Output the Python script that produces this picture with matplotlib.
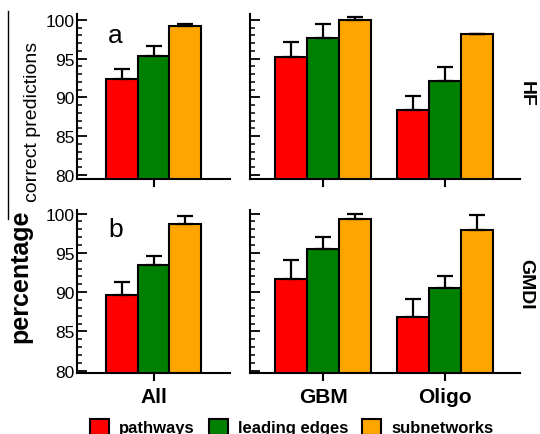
import numpy as np
import matplotlib
matplotlib.use('Agg')
import matplotlib.pyplot as plt
from matplotlib.ticker import MultipleLocator
from matplotlib.patches import Patch
from matplotlib.lines import Line2D

plt.rcParams['font.family'] = ['Liberation Sans', 'DejaVu Sans']

groups_left = ['All']
groups_right = ['GBM', 'Oligo']
methods = ['pathways', 'leading edges', 'subnetworks']
colors = ['#ff0000', '#008000', '#ffa500']

# values for All, GBM, Oligo
hf_vals = {'pathways': [92.3, 95.15, 88.35],
           'leading edges': [95.35, 97.7, 92.1],
           'subnetworks': [99.25, 100.0, 98.2]}
hf_err = {'pathways': [1.3, 1.95, 1.85],
          'leading edges': [1.25, 1.8, 1.8],
          'subnetworks': [0.25, 0.4, 0.0]}
gmdi_vals = {'pathways': [89.65, 91.7, 86.8],
             'leading edges': [93.5, 95.5, 90.5],
             'subnetworks': [98.7, 99.35, 97.95]}
gmdi_err = {'pathways': [1.65, 2.4, 2.35],
            'leading edges': [1.1, 1.5, 1.6],
            'subnetworks': [0.95, 0.55, 1.9]}

W, H = 540, 435
def box(x0, y0, x1, y1):
    return [x0 / W, 1 - y1 / H, (x1 - x0) / W, (y1 - y0) / H]

fig = plt.figure(figsize=(5.4, 4.35), dpi=100)
ax_tl = fig.add_axes(box(77, 15, 230, 180))
ax_tr = fig.add_axes(box(250, 15, 520, 180))
ax_bl = fig.add_axes(box(77, 211, 230, 374))
ax_br = fig.add_axes(box(250, 211, 520, 374))

bw = 0.262

def draw(ax, vals, errs, idx, labels, ylim, show_labels, show_y):
    x = np.arange(len(idx))
    for k, m in enumerate(methods):
        v = [vals[m][i] for i in idx]
        e = [errs[m][i] for i in idx]
        pos = x + (k - 1) * bw
        ax.bar(pos, v, bw, color=colors[k], edgecolor='black', linewidth=1.5, zorder=2)
        ax.errorbar(pos, v, yerr=[np.zeros(len(e)), e], fmt='none', ecolor='black',
                    elinewidth=1.6, capsize=5.5, capthick=1.6, zorder=3)
    ax.set_ylim(*ylim)
    ax.set_xticks(x)
    ax.set_xticklabels(labels if show_labels else [])
    ax.yaxis.set_major_locator(MultipleLocator(5))
    ax.yaxis.set_minor_locator(MultipleLocator(1))
    ax.tick_params(axis='y', which='major', direction='in', length=7, width=1.3,
                   labelsize=12.5, pad=2, labelleft=show_y)
    ax.tick_params(axis='y', which='minor', direction='in', length=3.5, width=1.1)
    ax.tick_params(axis='x', direction='out', length=6, width=1.5, labelsize=15, pad=4)
    for t in ax.get_xticklabels():
        t.set_fontweight('bold')
    for s in ['top', 'right']:
        ax.spines[s].set_visible(False)
    for s in ['left', 'bottom']:
        ax.spines[s].set_linewidth(1.5)

draw(ax_tl, hf_vals, hf_err, [0], groups_left, (79.45, 100.75), False, True)
draw(ax_tr, hf_vals, hf_err, [1, 2], groups_right, (79.45, 100.75), False, False)
draw(ax_bl, gmdi_vals, gmdi_err, [0], groups_left, (79.7, 100.45), True, True)
draw(ax_br, gmdi_vals, gmdi_err, [1, 2], groups_right, (79.7, 100.45), True, False)
ax_tl.set_xlim(-0.628, 0.628)
ax_bl.set_xlim(-0.628, 0.628)
ax_tr.set_xlim(-0.602, 1.616)
ax_br.set_xlim(-0.602, 1.616)

fig.text(108 / W, 1 - 43 / H, 'a', fontsize=19, ha='left', va='baseline')
fig.text(108 / W, 1 - 237 / H, 'b', fontsize=19, ha='left', va='baseline')

fig.text(526 / W, 1 - 94 / H, 'HF', rotation=-90, fontsize=14, fontweight='bold',
         ha='center', va='center')
fig.text(526 / W, 1 - 284 / H, 'GMDI', rotation=-90, fontsize=14, fontweight='bold',
         ha='center', va='center')

fig.text(20 / W, 1 - 276 / H, 'percentage', rotation=90, fontsize=18, fontweight='bold',
         ha='center', va='center')
fig.text(33 / W, 1 - 122 / H, 'correct predictions', rotation=90, fontsize=14,
         ha='center', va='center')
fig.add_artist(Line2D([7.5 / W, 7.5 / W], [1 - 12 / H, 1 - 220 / H], color='black', lw=1))

handles = [Patch(facecolor=c, edgecolor='black', linewidth=1.5) for c in colors]
leg = fig.legend(handles, methods, loc='center', bbox_to_anchor=(292 / W, 1 - 428 / H),
                 ncol=3, frameon=False, handlelength=1.14, handleheight=1.08,
                 handletextpad=0.6, columnspacing=0.84, borderpad=0, borderaxespad=0,
                 prop={'size': 12, 'weight': 'bold'})

fig.savefig('out.png', dpi=100)
